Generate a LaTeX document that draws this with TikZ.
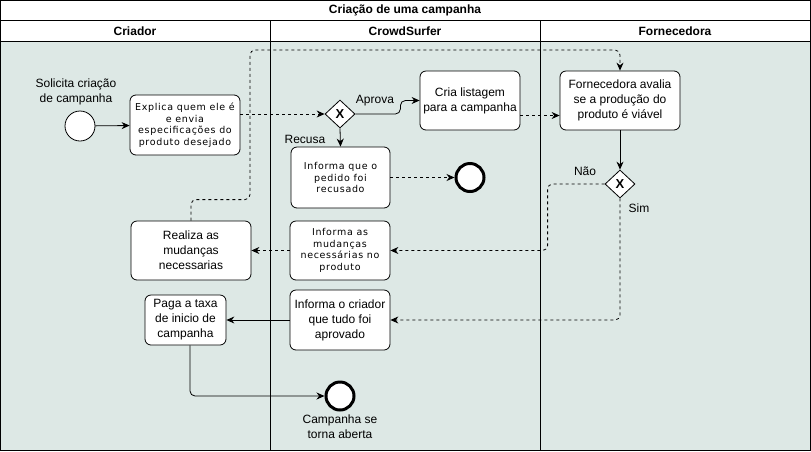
\documentclass[tikz,border=0pt]{standalone}
\usepackage{fontspec}
\setmainfont{Liberation Sans}
\newfontfamily\spacedfont[LetterSpace=7]{DejaVu Sans}
\usetikzlibrary{arrows.meta}
\usetikzlibrary{shapes.geometric}

\begin{document}
\begin{tikzpicture}[x=1pt,y=1pt,yscale=-1,xscale=1,line width=0.8pt,
  task/.style={draw, rounded corners=6pt, fill=white, align=center, inner sep=1pt, font=\fontsize{12}{15}\selectfont},
  spaced/.style={font=\spacedfont\fontsize{9.5}{11.5}\selectfont},
  gate/.style={draw, diamond, fill=white, minimum width=30, minimum height=28, inner sep=0pt, font=\bfseries\fontsize{13}{13}\selectfont},
  startev/.style={draw, circle, fill=white, minimum size=30, inner sep=0pt},
  endev/.style={draw, circle, fill=white, line width=3pt, minimum size=28, inner sep=0pt},
  lbl/.style={align=center, inner sep=0.75pt, font=\fontsize{12}{15}\selectfont},
  flow/.style={-{Stealth[length=8pt,width=7pt]}, rounded corners=5pt},
  msg/.style={flow, dashed}]
\useasboundingbox (0,0) rectangle (811,451);

%Shape: Rectangle [id:pool]
\draw [fill={rgb, 255:red, 221; green, 232; blue, 229 }] (0.5,41) rectangle (810.5,450.5);
\draw [fill=white] (0.5,0.5) rectangle (810.5,20.5);
\draw [fill=white] (0.5,20.5) rectangle (810.5,41);
%Straight Lines [id:lanes]
\draw (270,20.5) -- (270,450.5);
\draw (540,20.5) -- (540,450.5);

% Text Node
\node (title) at (405,10.5) {\bfseries\fontsize{12}{14}\selectfont Criação de uma campanha};
% Text Node
\node (lcriador) at (135,31) {\bfseries\fontsize{12}{14}\selectfont Criador};
% Text Node
\node (lcrowd) at (405,31) {\bfseries\fontsize{12}{14}\selectfont CrowdSurfer};
% Text Node
\node (lforn) at (675,31) {\bfseries\fontsize{12}{14}\selectfont Fornecedora};

%Shape: Circle [id:start]
\node [startev] (start) at (80,126) {};
% Text Node
\node [lbl] (lstart) at (76,92) {Solicita criação\\de campanha};

%Shape: Rounded Rect [id:explica]
\node [task, spaced, minimum width=110, minimum height=60] (explica) at (185,125) {Explica quem ele é\\e envia\\especificações do\\produto desejado};
%Shape: Diamond [id:gw1]
\node [gate] (gw1) at (340,114) {X};
%Shape: Rounded Rect [id:cria]
\node [task, minimum width=100, minimum height=59] (cria) at (470,100.5) {Cria listagem\\para a campanha};
%Shape: Rounded Rect [id:recusado]
\node [task, spaced, minimum width=99, minimum height=61] (recusado) at (340.5,177.5) {Informa que o\\pedido foi\\recusado};
%Shape: Circle [id:end1]
\node [endev] (end1) at (470,177.5) {};
%Shape: Rounded Rect [id:forn]
\node [task, minimum width=120, minimum height=59] (forn) at (620,100.5) {Fornecedora avalia\\se a produção do\\produto é viável};
%Shape: Diamond [id:gw2]
\node [gate] (gw2) at (620,184) {X};
%Shape: Rounded Rect [id:mudancas]
\node [task, spaced, minimum width=100, minimum height=59] (mudancas) at (340,250.5) {Informa as\\mudanças\\necessárias no\\produto};
%Shape: Rounded Rect [id:realiza]
\node [task, minimum width=120, minimum height=59] (realiza) at (191,250.5) {Realiza as\\mudanças\\necessarias};
%Shape: Rounded Rect [id:aprovado]
\node [task, minimum width=100, minimum height=60] (aprovado) at (340,320) {Informa o criador\\que tudo foi\\aprovado};
%Shape: Rounded Rect [id:paga]
\node [task, minimum width=81, minimum height=50] (paga) at (185.5,320) {Paga a taxa\\de inicio de\\campanha};
%Shape: Circle [id:end2]
\node [endev] (end2) at (340,396) {};
% Text Node
\node [lbl] (lend2) at (340,427) {Campanha se\\torna aberta};

%Straight Lines [id:flows]
\draw [flow] (start) -- (explica);
\draw [msg] (gw1.west -| explica.east) -- (gw1.west);
\draw [flow] (gw1.east) -- ++(45,0) |- (cria.west);
\draw [flow] (gw1.south) -- (recusado.north);
\draw [msg] (recusado.east |- end1) -- (end1);
\draw [msg] ([yshift=15pt]cria.east) -- ([yshift=15pt]forn.west);
\draw [msg] (realiza.north) -- ++(0,-21) -| (250,50) -| (forn.north);
\draw [flow] (forn) -- (gw2);
\draw [msg] (gw2.west) -- ++(-57,0) |- (mudancas.east);
\draw [msg] (gw2.south) |- (aprovado.east);
\draw [msg] (mudancas) -- (realiza);
\draw [flow] (aprovado) -- (paga);
\draw [flow] ([xshift=4.5pt]paga.south) |- (end2.west);

% Text Node
\node [lbl] (laprova) at (375,101) {Aprova};
% Text Node
\node [lbl] (lrecusa) at (305,139) {Recusa};
% Text Node
\node [lbl] (lnao) at (585,171) {Não};
% Text Node
\node [lbl] (lsim) at (639,208) {Sim};

\end{tikzpicture}
\end{document}
